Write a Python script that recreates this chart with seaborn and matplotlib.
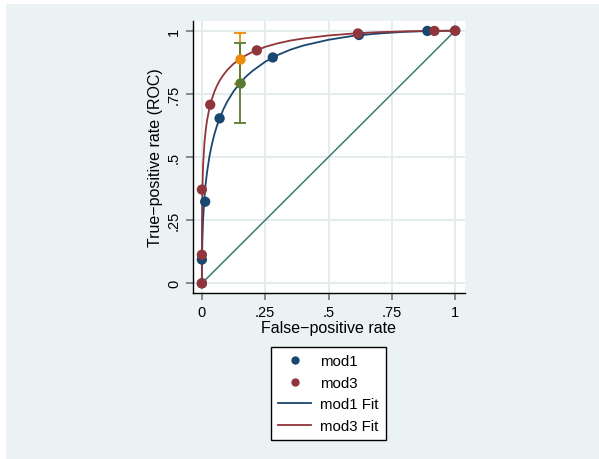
import numpy as np
import pandas as pd
import matplotlib
matplotlib.use("Agg")
import matplotlib.pyplot as plt
from matplotlib.lines import Line2D
from matplotlib.patches import Rectangle
import seaborn as sns

# empirical ROC points
mod1_fpr = [0, 0.0, 0.013, 0.07, 0.28, 0.62, 0.89, 1.0]
mod1_tpr = [0, 0.094, 0.323, 0.653, 0.894, 0.983, 0.999, 1.0]
mod3_fpr = [0, 0.0, 0.0, 0.033, 0.217, 0.616, 0.918, 1.0]
mod3_tpr = [0, 0.113, 0.371, 0.707, 0.922, 0.989, 0.999, 1.0]

# fitted (binormal) curves
fit_fpr = [0, 0.0001, 0.0005, 0.002, 0.005, 0.01, 0.015, 0.02, 0.03, 0.04, 0.05,
           0.06, 0.07, 0.085, 0.1, 0.125, 0.15, 0.175, 0.2, 0.25, 0.3, 0.35, 0.4,
           0.5, 0.6, 0.7, 0.8, 0.9, 1.0]
mod1_fit = [0, 0.04, 0.09, 0.172, 0.255, 0.338, 0.394, 0.437, 0.503, 0.552, 0.592,
            0.625, 0.653, 0.689, 0.719, 0.760, 0.792, 0.819, 0.841, 0.877, 0.904,
            0.925, 0.941, 0.964, 0.980, 0.989, 0.9955, 0.9988, 1.0]
mod3_fit = [0, 0.152, 0.251, 0.372, 0.471, 0.554, 0.605, 0.642, 0.695, 0.731, 0.760,
            0.783, 0.802, 0.825, 0.844, 0.869, 0.888, 0.903, 0.916, 0.936, 0.950,
            0.961, 0.969, 0.981, 0.989, 0.9942, 0.9973, 0.9992, 1.0]

# operating points with confidence intervals
op_fpr = [0.15, 0.15]
op_tpr = [0.888, 0.793]
op_lo = [0.79, 0.636]
op_hi = [0.991, 0.95]
op_col = ["#ea8c0a", "#5a7a34"]

BLUE = "#1a476f"
RED = "#90353b"
BG = "#eaf2f3"

plt.rcParams["font.family"] = ["Liberation Sans", "DejaVu Sans"]
fig = plt.figure(figsize=(5.99, 4.60), dpi=100, facecolor="white")
# outer graph region (thin white strip on left/top as in the reference)
fig.patches.append(Rectangle((6 / 599, 0), 1, 1 - 5 / 460, transform=fig.transFigure,
                             facecolor=BG, edgecolor="none", zorder=-10))
ax = fig.add_axes([0.322, 0.361, 0.454, 0.591])
ax.set_facecolor("white")

ax.plot([0, 1], [0, 1], color="#3a7d70", lw=1.1, zorder=2)

fits = pd.DataFrame({"fpr": fit_fpr * 2, "tpr": mod1_fit + mod3_fit,
                     "model": ["mod1 Fit"] * len(fit_fpr) + ["mod3 Fit"] * len(fit_fpr)})
sns.lineplot(data=fits, x="fpr", y="tpr", hue="model", palette=[BLUE, RED],
             estimator=None, sort=False, lw=1.3, legend=False, ax=ax, zorder=3)

pts = pd.DataFrame({"fpr": mod1_fpr + mod3_fpr, "tpr": mod1_tpr + mod3_tpr,
                    "model": ["mod1"] * len(mod1_fpr) + ["mod3"] * len(mod3_fpr)})
sns.scatterplot(data=pts, x="fpr", y="tpr", hue="model", palette=[BLUE, RED],
                s=55, edgecolor="none", legend=False, ax=ax, zorder=4)

for x, y, lo, hi, c in zip(op_fpr, op_tpr, op_lo, op_hi, op_col):
    ax.errorbar(x, y, yerr=[[y - lo], [hi - y]], fmt="o", color=c, ms=7.5,
                mec="none", capsize=4, elinewidth=1.3, capthick=1.3, zorder=5)

ticks = [0, 0.25, 0.5, 0.75, 1]
labels = ["0", ".25", ".5", ".75", "1"]
ax.set_xlim(-0.0355, 1.038)
ax.set_ylim(-0.038, 1.038)
ax.set_xticks(ticks, labels)
ax.set_yticks(ticks, labels)
for t in ax.get_yticklabels():
    t.set_rotation(90)
    t.set_va("center")
ax.tick_params(labelsize=10.5, length=5, color="#777777", width=1.2)
ax.grid(True, color="#e4ecee", lw=1.4)
ax.set_axisbelow(True)
ax.set_xlabel("False\u2212positive rate", fontsize=11.5, labelpad=1)
ax.set_ylabel("True\u2212positive rate (ROC)", fontsize=11.5, labelpad=3)
for s in ["top", "right"]:
    ax.spines[s].set_visible(False)
for s in ["left", "bottom"]:
    ax.spines[s].set_color("black")
    ax.spines[s].set_linewidth(1.0)

handles = [
    Line2D([], [], marker="o", ls="none", color=BLUE, ms=6, mec="none"),
    Line2D([], [], marker="o", ls="none", color=RED, ms=6, mec="none"),
    Line2D([], [], color=BLUE, lw=1.3),
    Line2D([], [], color=RED, lw=1.3),
]
leg = fig.legend(handles, ["mod1", "mod3", "mod1 Fit", "mod3 Fit"],
                 loc="center", bbox_to_anchor=(0.548, 0.142), fontsize=10.8,
                 frameon=True, fancybox=False, edgecolor="black", facecolor="white",
                 framealpha=1, handlelength=2.2, handletextpad=0.6, labelspacing=0.5,
                 borderpad=0.5, borderaxespad=0)
leg.get_frame().set_linewidth(1.0)

fig.savefig("out.png", dpi=100, facecolor="white")
